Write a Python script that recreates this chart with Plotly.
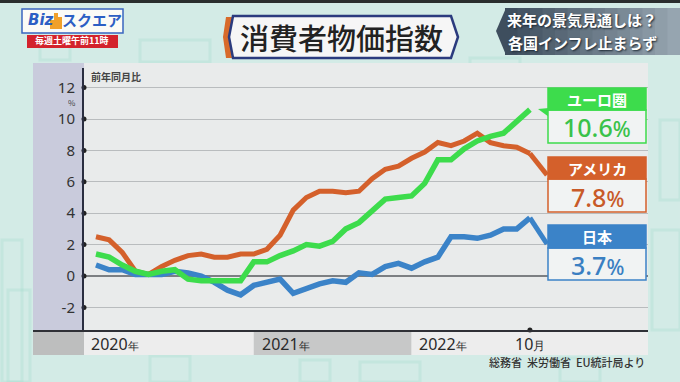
import plotly.graph_objects as go

W, H = 680, 382

# ---------------- data ----------------
years = ["2020", "2021", "2022"]
months = [f"{y}-{m:02d}" for y in years for m in range(1, 13)][:34]   # Jan 2020 .. Oct 2022
japan = [0.7, 0.4, 0.4, 0.1, 0.1, 0.1, 0.3, 0.2, 0.0, -0.4, -0.9, -1.2,
         -0.6, -0.4, -0.2, -1.1, -0.8, -0.5, -0.3, -0.4, 0.2, 0.1, 0.6, 0.8,
         0.5, 0.9, 1.2, 2.5, 2.5, 2.4, 2.6, 3.0, 3.0, 3.7]
usa = [2.5, 2.3, 1.5, 0.3, 0.1, 0.6, 1.0, 1.3, 1.4, 1.2, 1.2, 1.4,
       1.4, 1.7, 2.6, 4.2, 5.0, 5.4, 5.4, 5.3, 5.4, 6.2, 6.8, 7.0,
       7.5, 7.9, 8.5, 8.3, 8.6, 9.1, 8.5, 8.3, 8.2, 7.8]
euro = [1.4, 1.2, 0.7, 0.3, 0.1, 0.3, 0.4, -0.2, -0.3, -0.3, -0.3, -0.3,
        0.9, 0.9, 1.3, 1.6, 2.0, 1.9, 2.2, 3.0, 3.4, 4.1, 4.9, 5.0,
        5.1, 5.9, 7.4, 7.4, 8.1, 8.6, 8.9, 9.1, 9.9, 10.6]
yticks = [-2, 0, 2, 4, 6, 8, 10, 12]
year_labels = ["2020年", "2021年", "2022年"]
last_label = "10月"
series_names = ["日本", "アメリカ", "ユーロ圏"]
series_labels = ["3.7%", "7.8%", "10.6%"]

x = list(range(len(months)))

# ---------------- geometry helpers ----------------
PL, PR, PT, PB = 84, 648, 68, 330
xmin, xmax = -0.91, 41.98
ymin, ymax = -3.44, 13.25


def px(v):
    return v / W


def py(v):
    return 1 - v / H


def dx(xp):
    return xmin + (xp - PL) / (PR - PL) * (xmax - xmin)


def dy(yp):
    return ymax - (yp - PT) / (PB - PT) * (ymax - ymin)


def ppath(points):
    return "M " + " L ".join(f"{px(a):.5f},{py(b):.5f}" for a, b in points) + " Z"


JP = "Noto Sans CJK JP"
C_JP, C_US, C_EU = "#3b83c8", "#d4602b", "#3ddc4c"

fig = go.Figure()

fig.add_trace(go.Scatter(x=x, y=japan, mode="lines", line=dict(color=C_JP, width=5.5),
                         hoverinfo="skip", name="日本"))
fig.add_trace(go.Scatter(x=x, y=usa, mode="lines", line=dict(color=C_US, width=5),
                         hoverinfo="skip", name="アメリカ"))
fig.add_trace(go.Scatter(x=x, y=euro, mode="lines", line=dict(color=C_EU, width=5.5),
                         hoverinfo="skip", name="ユーロ圏"))
# tick dots on axes
fig.add_trace(go.Scatter(x=[xmin] * len(yticks), y=yticks, mode="markers",
                         marker=dict(color="#222", size=5), cliponaxis=False, hoverinfo="skip"))
fig.add_trace(go.Scatter(x=[x[-1]], y=[ymin], mode="markers",
                         marker=dict(color="#222", size=5), cliponaxis=False, hoverinfo="skip"))

shapes = []
# background top strip
shapes.append(dict(type="rect", xref="paper", yref="paper", x0=0, x1=1, y0=py(3), y1=1,
                   fillcolor="#2a2e2e", line_width=0, layer="below"))
# faint background pattern
for (a, b, c, d) in [(2, 240, 22, 382), (8, 290, 30, 382), (300, 360, 330, 382), (360, 362, 420, 382),
                     (560, 358, 600, 382), (652, 230, 680, 330), (660, 120, 680, 200),
                     (150, 356, 190, 382), (40, 20, 70, 60), (470, 58, 520, 66), (140, 40, 210, 62)]:
    shapes.append(dict(type="rect", xref="paper", yref="paper", x0=px(a), x1=px(c), y0=py(d), y1=py(b),
                       fillcolor="rgba(0,0,0,0)", line=dict(color="rgba(150,215,200,0.25)", width=3),
                       layer="below"))
# chart panel
shapes.append(dict(type="rect", xref="paper", yref="paper", x0=px(33), x1=px(648), y0=py(355), y1=py(63),
                   fillcolor="#e9ebeb", line_width=0, layer="below"))
shapes.append(dict(type="rect", xref="paper", yref="paper", x0=px(33), x1=px(84), y0=py(331), y1=py(63),
                   fillcolor="#c9cbdc", line_width=0, layer="below"))
shapes.append(dict(type="rect", xref="paper", yref="paper", x0=px(33), x1=px(84), y0=py(355), y1=py(331),
                   fillcolor="#bdbebe", line_width=0, layer="below"))
# year bands
band_edges = [xmin, 12, 24, xmax]
band_cols = ["#ededed", "#c7c8c8", "#ededed"]
for i in range(3):
    shapes.append(dict(type="rect", xref="x", yref="paper", x0=band_edges[i], x1=band_edges[i + 1],
                       y0=py(355), y1=py(331), fillcolor=band_cols[i], line_width=0, layer="below"))
# bottom axis line
shapes.append(dict(type="line", xref="paper", yref="paper", x0=px(33), x1=px(648), y0=py(331), y1=py(331),
                   line=dict(color="#2f3036", width=2)))

# pointers from line ends to labels
shapes.append(dict(type="line", xref="x", yref="y", x0=x[-1], y0=japan[-1], x1=dx(547), y1=dy(244),
                   line=dict(color=C_JP, width=5)))
shapes.append(dict(type="line", xref="x", yref="y", x0=x[-1], y0=usa[-1], x1=dx(547), y1=dy(175),
                   line=dict(color=C_US, width=5)))
shapes.append(dict(type="path", xref="paper", yref="paper",
                   path=ppath([(538, 109), (549, 108), (549, 117)]), fillcolor=C_EU, line_width=0))

# label boxes
boxes = [  # header top, header bottom, value bottom, color
    (88, 110, 143, C_EU),
    (157, 179, 212, C_US),
    (225, 248, 280, C_JP),
]
for (t, m, b, col) in boxes:
    shapes.append(dict(type="rect", xref="paper", yref="paper", x0=px(548), x1=px(646), y0=py(b), y1=py(m),
                       fillcolor="#f1f3f3", line=dict(color=col, width=1.5)))
    shapes.append(dict(type="rect", xref="paper", yref="paper", x0=px(548), x1=px(646), y0=py(m), y1=py(t),
                       fillcolor=col, line=dict(color=col, width=1.5)))

# title hexagon
shapes.append(dict(type="path", xref="paper", yref="paper",
                   path=ppath([(226, 17), (223, 37), (226, 58), (232, 58), (229, 37), (232, 17)]),
                   fillcolor="#d86a2a", line_width=0))
shapes.append(dict(type="path", xref="paper", yref="paper",
                   path=ppath([(233, 16), (451, 16), (458, 37), (451, 58), (233, 58), (229, 37)]),
                   fillcolor="#f6f6f6", line=dict(color="#2b3b7e", width=2.5)))

# top-right gradient box
n = 14
c0 = (62, 78, 94)
c1 = (150, 165, 176)
x0b, x1b = 505, 680
for k in range(n):
    t = k / (n - 1)
    col = "rgb(%d,%d,%d)" % tuple(int(c0[j] + (c1[j] - c0[j]) * t) for j in range(3))
    a = x0b + (x1b - x0b) * k / n
    b = x0b + (x1b - x0b) * (k + 1) / n + 0.6
    shapes.append(dict(type="rect", xref="paper", yref="paper", x0=px(a), x1=px(b), y0=py(55), y1=py(8),
                       fillcolor=col, line_width=0))
shapes.append(dict(type="path", xref="paper", yref="paper",
                   path=ppath([(506, 8), (496, 31), (506, 55)]), fillcolor="rgb(62,78,94)", line_width=0))

# logo
shapes.append(dict(type="rect", xref="paper", yref="paper", x0=px(22), x1=px(123), y0=py(33), y1=py(9),
                   fillcolor="#fbfbf6", line=dict(color="#3a66c0", width=1.5)))
shapes.append(dict(type="rect", xref="paper", yref="paper", x0=px(27), x1=px(118), y0=py(48), y1=py(35),
                   fillcolor="#d3222c", line_width=0))
for (a, b, c, d) in [(54, 13, 58, 29), (58, 17, 62, 29), (50, 20, 54, 29)]:
    shapes.append(dict(type="rect", xref="paper", yref="paper", x0=px(a), x1=px(c), y0=py(d), y1=py(b),
                       fillcolor="#f0a02a", line_width=0))

ann = []


def A(text, xp, yp, size, color, xanchor="center", weight="normal", family=JP, shadow=None, yanchor="middle",
      xr="paper", **kw):
    f = dict(family=family, size=size, color=color, weight=weight)
    if shadow:
        f["shadow"] = shadow
    d = dict(text=text, x=xp if xr != "paper" else px(xp), y=py(yp), xref=xr, yref="paper",
             showarrow=False, xanchor=xanchor, yanchor=yanchor, font=f)
    d.update(kw)
    ann.append(d)


# title & headers
A("消費者物価指数", 341, 37, 29, "#222222", weight=500)
A("来年の景気見通しは？", 582, 20, 15, "#ffffff", weight="bold", shadow="1px 1px 2px #1a2530")
A("各国インフレ止まらず", 582, 42, 15, "#ffffff", weight="bold", shadow="1px 1px 2px #1a2530")
A("<i>Biz</i>", 41, 20, 15, "#2c5fc4", weight="bold", family="DejaVu Sans")
A("スクエア", 92, 20, 15, "#2c5fc4", weight="bold")
A("毎週土曜午前11時", 72, 41, 9, "#ffffff", weight="bold")

# axis decorations
A("前年同月比", 89, 76, 10, "#444444", xanchor="left", weight="bold")
A("%", 72, 102, 8, "#444444", height=8, borderpad=0)
A("総務省  米労働省  EU統計局より", 647, 362, 11, "#333333", xanchor="right", weight=500)

# year labels (data positioned)
year_pos = [-0.55, 12.45, 24.45]
for lab, xpos in zip(year_labels, year_pos):
    A(lab[:-1] + "<span style='font-size:11px'>" + lab[-1] + "</span>", xpos, 344, 16, "#2a2a2a",
      xanchor="left", family="Noto Sans", xr="x")
A(last_label[:-1] + "<span style='font-size:12px'>" + last_label[-1] + "</span>", x[-1], 344, 16, "#2a2a2a",
  family="Noto Sans", xr="x")

# series labels
txt_cols = ["#3a7fc2", "#c85a28", "#39c24a"]
box_by_series = [boxes[2], boxes[1], boxes[0]]
for name, lab, col, bx in zip(series_names, series_labels, txt_cols, box_by_series):
    t, m, b, _ = bx
    A(name, 597, (t + m) / 2 + 0.5, 15, "#ffffff", weight="bold")
    A(lab[:-1] + "<span style='font-size:21px'>%</span>", 597, (m + b) / 2 + 1, 25, col,
      family="Noto Sans", weight=500)

fig.update_layout(
    width=W, height=H, margin=dict(l=0, r=0, t=0, b=0),
    paper_bgcolor="#d3ebe6", plot_bgcolor="rgba(0,0,0,0)",
    showlegend=False, shapes=shapes, annotations=ann,
    xaxis=dict(domain=[px(PL), px(PR)], range=[xmin, xmax], showgrid=False, zeroline=False,
               showticklabels=False, ticks="", fixedrange=True),
    yaxis=dict(domain=[py(PB), py(PT)], range=[ymin, ymax], tickvals=yticks,
               ticktext=[str(v) for v in yticks], gridcolor="#b9bcbe", gridwidth=1,
               zeroline=True, zerolinecolor="#7c7f82", zerolinewidth=1.5,
               showline=True, linecolor="#2a2e40", linewidth=2,
               ticks="outside", ticklen=4, tickcolor="rgba(0,0,0,0)",
               tickfont=dict(family="Noto Sans", size=15, color="#333333"), fixedrange=True),
)

fig.write_html("out.html", config={"displayModeBar": False},
               post_script="document.body.style.margin='0';document.body.style.overflow='hidden';")
